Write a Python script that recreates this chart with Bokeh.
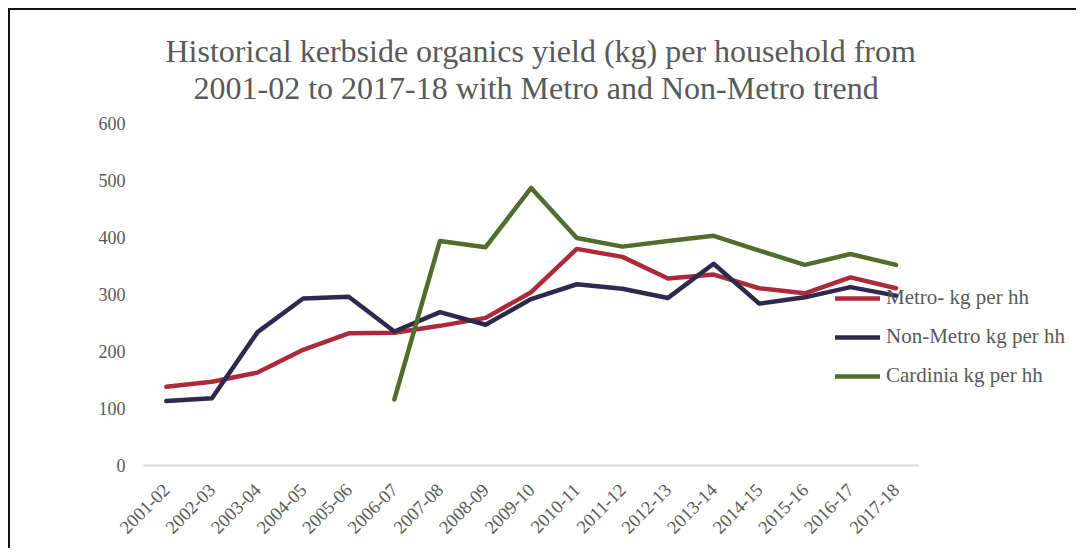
import math
from bokeh.plotting import figure
from bokeh.models import Range1d, Title, FixedTicker
from bokeh.embed import file_html
from bokeh.resources import INLINE

years = ["2001-02", "2002-03", "2003-04", "2004-05", "2005-06", "2006-07",
         "2007-08", "2008-09", "2009-10", "2010-11", "2011-12", "2012-13",
         "2013-14", "2014-15", "2015-16", "2016-17", "2017-18"]

metro = [138, 147, 163, 203, 232, 233, 245, 259, 304, 380, 366, 328,
         335, 311, 302, 330, 311]
non_metro = [113, 118, 234, 293, 296, 235, 269, 247, 292, 318, 310, 294,
             354, 284, 295, 313, 298]
cardinia = [None, None, None, None, None, 116, 394, 383, 487, 399, 384, 394,
            403, 377, 352, 371, 352]

y_ticks = [0, 100, 200, 300, 400, 500, 600]

title_line1 = "Historical kerbside organics yield (kg) per household from"
title_line2 = "2001-02 to 2017-18 with Metro and Non-Metro trend"

FONT = "Liberation Serif"
GREY = "#595959"

idx = list(range(len(years)))
n = len(years)

p = figure(width=1068, height=540, output_backend="svg", toolbar_location=None,
           x_range=Range1d(-0.5, n - 0.5 + 3.5),
           y_range=Range1d(0, 600),
           min_border_left=133, min_border_right=0, min_border_bottom=85,
           min_border_top=113, title=None)

p.styles = {"border-top": "2px solid #111111", "border-left": "2px solid #111111",
            "margin-top": "8px", "margin-left": "8px"}

p.outline_line_color = None
p.xgrid.grid_line_color = None
p.ygrid.grid_line_color = None

series = [
    ("Metro- kg per hh", metro, "#ad2a3b"),
    ("Non-Metro kg per hh", non_metro, "#2d2a4d"),
    ("Cardinia kg per hh", cardinia, "#536c2b"),
]
for name, vals, col in series:
    ys = [float("nan") if v is None else v for v in vals]
    p.line(idx, ys, line_color=col, line_width=4.5, line_cap="round",
           line_join="round", legend_label=name)

# Titles (added nearest-to-frame first)
t2 = Title(text=title_line2, align="left", text_font=FONT, text_font_size="32px",
           text_font_style="normal", text_color=GREY, offset=50, standoff=36)
t1 = Title(text=title_line1, align="left", text_font=FONT, text_font_size="32px",
           text_font_style="normal", text_color=GREY, offset=22, standoff=-39)
p.add_layout(t2, "above")
p.add_layout(t1, "above")

# Y axis
p.yaxis.ticker = FixedTicker(ticks=y_ticks)
p.yaxis.axis_line_color = None
p.yaxis.major_tick_line_color = None
p.yaxis.minor_tick_line_color = None
p.yaxis.major_label_text_font = FONT
p.yaxis.major_label_text_font_size = "18px"
p.yaxis.major_label_text_color = GREY
p.yaxis.major_label_standoff = 12

# X axis (category-style axis limited to the categories)
p.xaxis.ticker = FixedTicker(ticks=idx)
p.xaxis.major_label_overrides = {i: y for i, y in zip(idx, years)}
p.xaxis.bounds = (-0.5, n - 0.5)
p.xaxis.axis_line_color = "#d9d9d9"
p.xaxis.axis_line_width = 2
p.xaxis.major_tick_line_color = None
p.xaxis.minor_tick_line_color = None
p.xaxis.major_label_orientation = math.pi / 4
p.xaxis.major_label_text_font = FONT
p.xaxis.major_label_text_font_size = "18.5px"
p.xaxis.major_label_text_color = GREY
p.xaxis.major_label_standoff = 15

# Legend
lg = p.legend[0]
lg.location = (692, 77)
lg.padding = 0
lg.margin = 0
lg.spacing = 14
lg.glyph_width = 45
lg.glyph_height = 20
lg.label_height = 20
lg.label_standoff = 6
lg.label_text_font = FONT
lg.label_text_font_size = "21px"
lg.label_text_color = GREY
lg.border_line_color = None
lg.background_fill_alpha = 0

open("out.html", "w").write(file_html(p, INLINE))
